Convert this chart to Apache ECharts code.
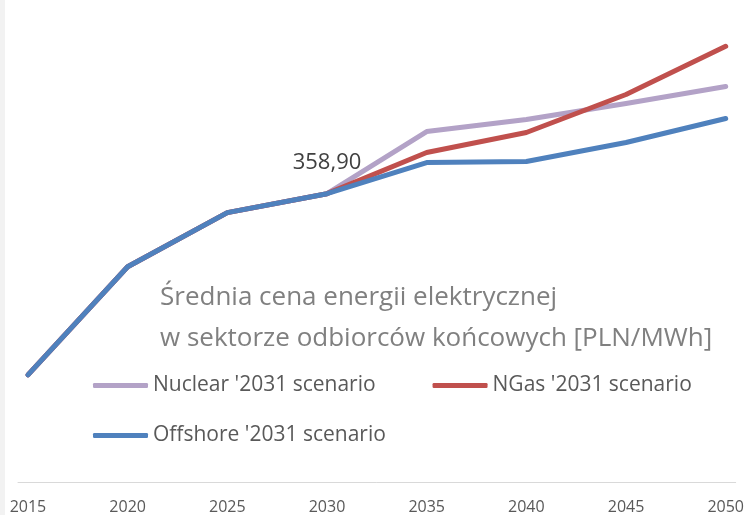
<!DOCTYPE html>
<html>
<head>
<meta charset="utf-8">
<script src="https://cdn.jsdelivr.net/npm/echarts@6/dist/echarts.min.js"></script>
<style>
html,body{margin:0;padding:0;background:#fff;}
#c{width:747px;height:515px;}
</style>
</head>
<body>
<div id="c"></div>
<script>
const years = [2015, 2020, 2025, 2030, 2035, 2040, 2045, 2050];
const nuclear = [133.4, 268.0, 335.3, 358.9, 436.3, 451.3, 471.2, 492.4];
const ngas = [133.4, 268.0, 335.3, 358.9, 410.1, 435.1, 482.4, 542.3];
const offshore = [133.4, 268.0, 335.3, 358.9, 397.7, 398.9, 422.6, 452.5];
const seriesNames = ["Nuclear '2031 scenario", "NGas '2031 scenario", "Offshore '2031 scenario"];
const labelYear = 2030;

const font = '"Open Sans", sans-serif';
const pairs = arr => years.map((y, i) => [y, arr[i]]);

const chart = echarts.init(document.getElementById('c'), null, {renderer: 'canvas'});
const lineStyle = c => ({width: 5, color: c, cap: 'round', join: 'round'});

chart.setOption({
  backgroundColor: '#ffffff',
  animation: false,
  title: {
    text: 'Średnia cena energii elektrycznej\nw sektorze odbiorców końcowych [PLN/MWh]',
    left: 155, top: 272,
    textStyle: {fontFamily: font, fontSize: 26, fontWeight: 'normal', color: '#808080', lineHeight: 41}
  },
  graphic: [{type: 'rect', shape: {x: 0, y: 0, width: 5, height: 515}, style: {fill: '#f2f2f2'}, silent: true}],
  legend: [
    {data: [seriesNames[0], seriesNames[1]], left: 88, top: 370, itemGap: 57, itemWidth: 55, itemHeight: 5,
     icon: 'roundRect', textStyle: {fontFamily: font, fontSize: 21, color: '#595959'}},
    {data: [seriesNames[2]], left: 88, top: 420, itemWidth: 55, itemHeight: 5,
     icon: 'roundRect', textStyle: {fontFamily: font, fontSize: 21, color: '#595959'}}
  ],
  grid: {left: 18, right: 9, top: 0, bottom: 33, containLabel: false},
  xAxis: {
    type: 'value', min: 2014.5, max: 2050.5,
    axisLine: {show: true, lineStyle: {color: '#d9d9d9', width: 1}},
    axisTick: {show: false},
    splitLine: {show: false},
    axisLabel: {customValues: years, formatter: v => String(v), fontFamily: font, fontSize: 16, color: '#595959', margin: 17}
  },
  yAxis: {type: 'value', min: 0, max: 600, show: false, splitLine: {show: false}},
  series: [
    {name: seriesNames[0], type: 'line', data: pairs(nuclear), showSymbol: false, symbol: 'none', lineStyle: lineStyle('#b3a2c7'), itemStyle: {color: '#b3a2c7'}},
    {name: seriesNames[1], type: 'line', data: pairs(ngas), showSymbol: false, symbol: 'none', lineStyle: lineStyle('#c0504d'), itemStyle: {color: '#c0504d'}},
    {name: seriesNames[2], type: 'line', data: pairs(offshore), symbol: 'none', lineStyle: lineStyle('#4f81bd'), itemStyle: {color: '#4f81bd'},
     markPoint: {
       symbol: 'circle', symbolSize: 0,
       data: [{coord: [labelYear, offshore[years.indexOf(labelYear)]], value: offshore[years.indexOf(labelYear)]}],
       label: {show: true, position: 'top', distance: 20, fontFamily: font, fontSize: 22, color: '#404040',
         formatter: p => p.value.toFixed(2).replace('.', ',')}
     }}
  ]
});
</script>
</body>
</html>
